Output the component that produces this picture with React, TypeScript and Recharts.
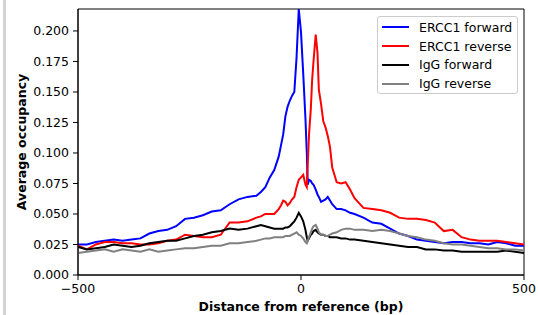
import React from 'react';
import { LineChart, Line, XAxis, YAxis, ReferenceArea } from 'recharts';

// distance from reference (bp)
const positions = [
  -500, -480, -460, -440, -420, -400, -380, -360, -340, -320, -300, -280, -260, -240, -220, -200, -180, -160, -140, -120,
  -100, -90, -80, -70, -60, -50, -45, -40, -35, -30, -25, -20, -15, -10, -5, 0, 5, 10,
  13, 15, 18, 22, 25, 28, 33, 37, 40, 45, 50, 55, 60, 65, 70, 80, 90, 100, 110, 120,
  140, 160, 180, 200, 220, 240, 260, 280, 300, 320, 340, 360, 380, 400, 420, 440, 460, 480, 500,
];

const ercc1Forward = [
  0.025, 0.025, 0.027, 0.028, 0.029, 0.028, 0.029, 0.030, 0.034, 0.036, 0.037, 0.040, 0.046, 0.047, 0.049, 0.052, 0.053, 0.058, 0.062, 0.064,
  0.065, 0.068, 0.072, 0.080, 0.086, 0.097, 0.106, 0.115, 0.130, 0.138, 0.143, 0.147, 0.150, 0.178, 0.218, 0.199, 0.165, 0.128,
  0.100, 0.074, 0.078, 0.077, 0.075, 0.074, 0.070, 0.066, 0.064, 0.060, 0.061, 0.062, 0.064, 0.061, 0.058, 0.054, 0.054, 0.053, 0.051, 0.050,
  0.047, 0.043, 0.042, 0.038, 0.034, 0.032, 0.029, 0.028, 0.027, 0.026, 0.027, 0.027, 0.026, 0.026, 0.025, 0.027, 0.026, 0.024, 0.024,
];

const ercc1Reverse = [
  0.024, 0.021, 0.025, 0.027, 0.027, 0.026, 0.026, 0.025, 0.025, 0.026, 0.028, 0.029, 0.033, 0.032, 0.031, 0.031, 0.033, 0.043, 0.043, 0.044,
  0.047, 0.048, 0.050, 0.050, 0.050, 0.054, 0.057, 0.061, 0.060, 0.057, 0.059, 0.062, 0.064, 0.072, 0.078, 0.080, 0.082, 0.074,
  0.072, 0.090, 0.115, 0.136, 0.160, 0.175, 0.197, 0.182, 0.152, 0.140, 0.126, 0.121, 0.114, 0.105, 0.088, 0.076, 0.075, 0.076, 0.070, 0.063,
  0.055, 0.054, 0.053, 0.051, 0.047, 0.046, 0.046, 0.045, 0.043, 0.036, 0.037, 0.031, 0.029, 0.028, 0.028, 0.028, 0.027, 0.026, 0.025,
];

const iggForward = [
  0.023, 0.021, 0.022, 0.023, 0.025, 0.024, 0.023, 0.024, 0.026, 0.027, 0.028, 0.028, 0.030, 0.032, 0.033, 0.035, 0.036, 0.038, 0.037, 0.038,
  0.040, 0.041, 0.040, 0.039, 0.038, 0.038, 0.038, 0.038, 0.039, 0.039, 0.040, 0.042, 0.044, 0.047, 0.051, 0.048, 0.044, 0.037,
  0.031, 0.028, 0.030, 0.033, 0.034, 0.036, 0.037, 0.035, 0.034, 0.033, 0.033, 0.032, 0.032, 0.031, 0.031, 0.031, 0.030, 0.030, 0.029, 0.029,
  0.028, 0.027, 0.026, 0.025, 0.024, 0.023, 0.023, 0.021, 0.021, 0.020, 0.020, 0.019, 0.019, 0.019, 0.019, 0.019, 0.020, 0.019, 0.018,
];

const iggReverse = [
  0.018, 0.019, 0.020, 0.021, 0.019, 0.021, 0.020, 0.019, 0.021, 0.019, 0.020, 0.021, 0.022, 0.022, 0.023, 0.024, 0.024, 0.026, 0.026, 0.027,
  0.028, 0.029, 0.030, 0.030, 0.031, 0.031, 0.031, 0.031, 0.032, 0.032, 0.032, 0.033, 0.034, 0.035, 0.033, 0.032, 0.030, 0.027,
  0.026, 0.028, 0.031, 0.035, 0.038, 0.040, 0.041, 0.038, 0.035, 0.033, 0.033, 0.032, 0.032, 0.033, 0.034, 0.035, 0.037, 0.038, 0.038, 0.037,
  0.037, 0.036, 0.037, 0.036, 0.034, 0.032, 0.031, 0.029, 0.028, 0.026, 0.025, 0.025, 0.024, 0.023, 0.022, 0.022, 0.021, 0.021, 0.020,
];

const xTicks = [-500, 0, 500];
const yTicks = [0, 0.025, 0.05, 0.075, 0.1, 0.125, 0.15, 0.175, 0.2];

const series = [
  { key: 'ercc1F', name: 'ERCC1 forward', color: '#0000ff' },
  { key: 'ercc1R', name: 'ERCC1 reverse', color: '#ff0000' },
  { key: 'iggF', name: 'IgG forward', color: '#000000' },
  { key: 'iggR', name: 'IgG reverse', color: '#808080' },
];

const data = positions.map((x, i) => ({
  x,
  ercc1F: ercc1Forward[i],
  ercc1R: ercc1Reverse[i],
  iggF: iggForward[i],
  iggR: iggReverse[i],
}));

const font = 'DejaVu Sans, sans-serif';

function LegendBox() {
  return (
    <div
      style={{
        position: 'absolute',
        left: 377,
        top: 16,
        width: 141,
        height: 78,
        boxSizing: 'border-box',
        border: '1px solid #cccccc',
        borderRadius: 3,
        background: 'rgba(255,255,255,0.8)',
        padding: '1px 0 0 4px',
        fontFamily: font,
        fontSize: 12.5,
        color: '#000',
        whiteSpace: 'nowrap',
      }}
    >
      {series.map((s) => (
        <div key={s.key} style={{ display: 'flex', alignItems: 'center', height: 18.8 }}>
          <div style={{ width: 27, height: 2, background: s.color, marginRight: 10, flexShrink: 0 }} />
          <span>{s.name}</span>
        </div>
      ))}
    </div>
  );
}

export default function App() {
  return (
    <div style={{ position: 'fixed', left: 0, top: 0, width: 538, height: 315, background: '#fff' }}>
      <div style={{ position: 'absolute', left: 3, top: 0, width: 3, height: 315, background: '#d4d4d4' }} />
      <LineChart width={538} height={315} data={data} margin={{ top: 9, right: 14, left: 0, bottom: 0 }}>
        <XAxis
          dataKey="x"
          type="number"
          domain={[-500, 500]}
          ticks={xTicks}
          allowDataOverflow
          height={40}
          tickSize={5}
          tickMargin={4}
          stroke="#000"
          tick={{ fill: '#000', fontSize: 12.5, fontFamily: font }}
          tickFormatter={(v: number) => String(v).replace('-', '\u2212')}
          label={() => (
            <text x={301} y={311} textAnchor="middle" fontFamily={font} fontSize={12.5} fontWeight="bold" fill="#000">
              Distance from reference (bp)
            </text>
          )}
        />
        <YAxis
          type="number"
          domain={[0, 0.218]}
          ticks={yTicks}
          allowDataOverflow
          width={78}
          tickSize={5}
          tickMargin={4}
          stroke="#000"
          tick={{ fill: '#000', fontSize: 12.5, fontFamily: font }}
          tickFormatter={(v: number) => v.toFixed(3)}
          label={() => (
            <text
              x={26}
              y={142}
              transform="rotate(-90 26 142)"
              textAnchor="middle"
              fontFamily={font}
              fontSize={12.5}
              fontWeight="bold"
              fill="#000"
            >
              Average occupancy
            </text>
          )}
        />
        <ReferenceArea x1={-500} x2={500} y1={0} y2={0.218} fill="none" stroke="#000" strokeWidth={1} ifOverflow="visible" />
        {series.map((s) => (
          <Line
            key={s.key}
            dataKey={s.key}
            name={s.name}
            stroke={s.color}
            strokeWidth={2}
            dot={false}
            type="linear"
            isAnimationActive={false}
          />
        ))}
      </LineChart>
      <LegendBox />
    </div>
  );
}
